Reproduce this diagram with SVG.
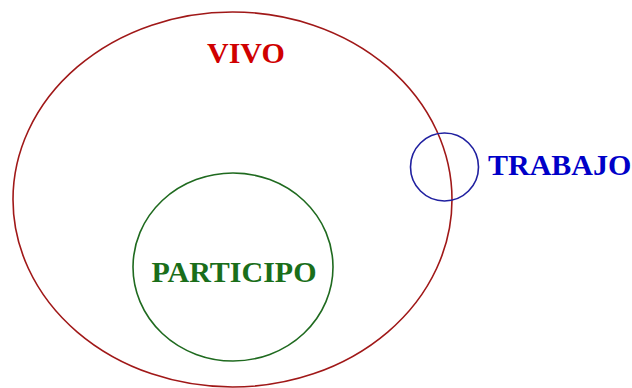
<svg xmlns="http://www.w3.org/2000/svg" width="632" height="388" viewBox="0 0 632 388">
<style>
.lbl{font-family:"Liberation Serif","Times New Roman",serif;font-weight:bold;font-size:30px}
.sh{fill:none;stroke-width:1.6}
</style>
<rect width="632" height="388" fill="#fff"/>
<g id="vivo">
<ellipse class="sh" cx="232.5" cy="199.5" rx="219.5" ry="187.5" stroke="#a01818"/>
<text class="lbl" x="207" y="63" fill="#d00000">VIVO</text>
</g>
<g id="participo">
<ellipse class="sh" cx="233" cy="267" rx="100" ry="94" stroke="#1f6a1f"/>
<text class="lbl" x="234" y="282" text-anchor="middle" fill="#1a6e1a">PARTICIPO</text>
</g>
<g id="trabajo">
<circle class="sh" cx="444.5" cy="167" r="34" stroke="#2020a0"/>
<text class="lbl" x="488" y="175" fill="#0000c8">TRABAJO</text>
</g>
<g id="connectors"/>
</svg>
